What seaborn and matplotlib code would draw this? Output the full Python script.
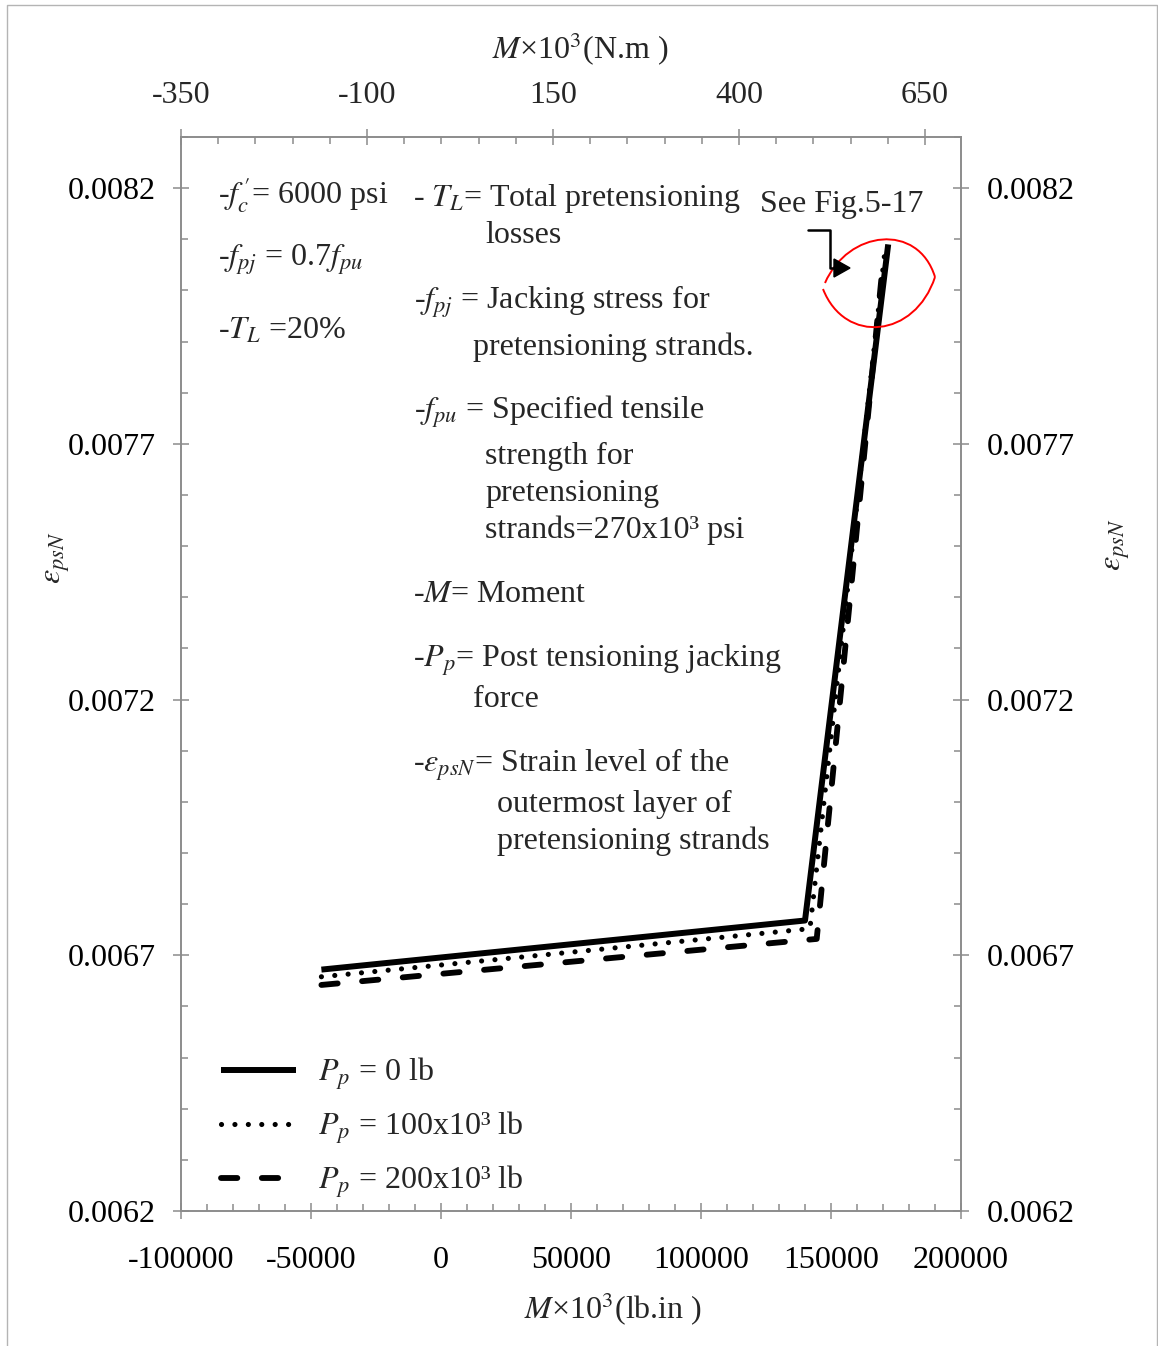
import numpy as np
import pandas as pd
import matplotlib
matplotlib.use("Agg")
import matplotlib.pyplot as plt
import seaborn as sns
from matplotlib.ticker import MultipleLocator, FixedLocator, FuncFormatter
from matplotlib.path import Path
from matplotlib.patches import PathPatch, Polygon
from matplotlib.lines import Line2D

# ---------------- data ----------------
series_labels = [r"$P_p$ = 0 lb", r"$P_p$ = 100x10³ lb", r"$P_p$ = 200x10³ lb"]
m_p0 = [-46000, 140000, 172000]
e_p0 = [0.006672, 0.006768, 0.00809]
m_p100 = [-46000, 141900, 170800]
e_p100 = [0.006658, 0.006752, 0.00808]
m_p200 = [-46000, 144500, 170200]
e_p200 = [0.006642, 0.006732, 0.008065]

x_ticks = [-100000, -50000, 0, 50000, 100000, 150000, 200000]
y_ticks = [0.0062, 0.0067, 0.0072, 0.0077, 0.0082]
top_ticks = [-350, -100, 150, 400, 650]

df = pd.DataFrame({
    "M": m_p0 + m_p100 + m_p200,
    "eps": e_p0 + e_p100 + e_p200,
    "series": [series_labels[0]] * 3 + [series_labels[1]] * 3 + [series_labels[2]] * 3,
})

# ---------------- style ----------------
sns.set_theme(style="ticks")
plt.rcParams["font.family"] = ["Liberation Serif", "DejaVu Serif"]
plt.rcParams["mathtext.fontset"] = "stix"
plt.rcParams["axes.unicode_minus"] = False

W, H = 1158, 1346
fig = plt.figure(figsize=(W / 100, H / 100), dpi=100)
fig.patch.set_facecolor("white")

L, R, T, B = 181, 961, 137, 1211
ax = fig.add_axes([L / W, 1 - B / H, (R - L) / W, (B - T) / H])
ax.set_facecolor("white")

FS = 23
SP = "#8c8c8c"


def P(x, y):
    return (x / W, 1 - y / H)


styles = [
    dict(linestyle="-", lw=4.3, solid_capstyle="butt"),
    dict(linestyle=(0, (0.01, 2.6)), lw=3.7, dash_capstyle="round"),
    dict(linestyle=(0, (2.8, 4.2)), lw=4.2, dash_capstyle="round"),
]
for lab, st in zip(series_labels, styles):
    sub = df[df["series"] == lab]
    sns.lineplot(data=sub, x="M", y="eps", ax=ax, sort=False, estimator=None,
                 color="black", label=lab, legend=False, **st)

ax.set_xlim(-100000, 200000)
ax.set_ylim(0.0062, 0.0083)
ax.set_xlabel("")
ax.set_ylabel("")

ax.xaxis.set_major_locator(FixedLocator(x_ticks))
ax.xaxis.set_minor_locator(MultipleLocator(10000))
ax.yaxis.set_major_locator(FixedLocator(y_ticks))
ax.yaxis.set_minor_locator(MultipleLocator(0.0001))
ax.xaxis.set_major_formatter(FuncFormatter(lambda v, p: f"{v:.0f}"))
ax.yaxis.set_major_formatter(FuncFormatter(lambda v, p: f"{v:.4f}"))

ax.tick_params(axis="both", which="major", direction="inout", length=11, width=1.1,
               color=SP, labelsize=FS, labelcolor="black")
ax.tick_params(axis="both", which="minor", direction="in", length=5, width=1.1, color=SP)
ax.tick_params(axis="y", which="both", left=True, right=True, labelleft=True, labelright=True, pad=13)
ax.tick_params(axis="x", which="both", bottom=True, top=False, pad=20)
for s in ax.spines.values():
    s.set_color(SP)
    s.set_linewidth(1.2)
    s.set_visible(True)

axt = ax.twiny()
axt.set_xlim(-350, -350 + 780 * 250 / 186)
axt.xaxis.set_major_locator(FixedLocator(top_ticks))
axt.xaxis.set_minor_locator(MultipleLocator(50))
axt.xaxis.set_major_formatter(FuncFormatter(lambda v, p: f"{v:.0f}"))
axt.tick_params(axis="x", which="major", direction="inout", length=11, width=1.1,
                color=SP, labelsize=FS, pad=14)
axt.tick_params(axis="x", which="minor", direction="in", length=5, width=1.1, color=SP)
for s in axt.spines.values():
    s.set_color(SP)
    s.set_linewidth(1.2)

# legend
ax.legend(loc="upper left", bbox_to_anchor=P(221, 1056), bbox_transform=fig.transFigure,
          frameon=False, fontsize=FS, handlelength=2.35, handletextpad=0.7,
          labelspacing=0.55, borderpad=0, borderaxespad=0)

# axis labels
fig.text(*P(580, 49), r"$M$×10$^3$(N.m )", fontsize=FS, ha="center", va="center")
fig.text(*P(613, 1309), r"$M$×10$^3$(lb.in )", fontsize=FS, ha="center", va="center")
fig.text(*P(57, 558), r"$\varepsilon_{psN}$", fontsize=FS, ha="center", va="center", rotation=90)
fig.text(*P(1117, 545), r"$\varepsilon_{psN}$", fontsize=FS, ha="center", va="center", rotation=90)

# annotation texts (x, baseline y, text)
notes = [
    (218, 204, r"-$f^{\,\prime}_{c}$= 6000 psi"),
    (218, 266, r"-$f_{pj}$ = 0.7$f_{pu}$"),
    (218, 339, r"-$T_L$ =20%"),
    (413, 206, r"- $T_L$= Total pretensioning"),
    (485, 243, "losses"),
    (414, 309, r"-$f_{pj}$ = Jacking stress for"),
    (473, 355, "pretensioning strands."),
    (414, 419, r"-$f_{pu}$ = Specified tensile"),
    (485, 464, "strength for"),
    (485, 501, "pretensioning"),
    (485, 538, "strands=270x10³ psi"),
    (413, 602, r"-$M$= Moment"),
    (413, 667, r"-$P_p$= Post tensioning jacking"),
    (473, 707, "force"),
    (413, 772, r"-$\varepsilon_{psN}$= Strain level of the"),
    (497, 812, "outermost layer of"),
    (497, 849, "pretensioning strands"),
    (760, 212, "See Fig.5-17"),
]
for x, y, t in notes:
    fig.text(*P(x, y), t, fontsize=FS, ha="left", va="baseline")

# red lens highlight
upper = Path([P(825, 283), P(848, 230), P(918, 222), P(935, 277)],
             [Path.MOVETO, Path.CURVE4, Path.CURVE4, Path.CURVE4])
lower = Path([P(823, 289), P(845, 345), P(915, 338), P(935, 277)],
             [Path.MOVETO, Path.CURVE4, Path.CURVE4, Path.CURVE4])
for pth in (upper, lower):
    fig.add_artist(PathPatch(pth, transform=fig.transFigure, fill=False,
                             edgecolor="red", lw=1.4))

# pointer arrow
xs, ys = zip(P(808, 230), P(830, 230), P(830, 268), P(836, 268))
fig.add_artist(Line2D(xs, ys, transform=fig.transFigure, color="black", lw=1.8))
fig.add_artist(Polygon([P(834, 259), P(850, 268), P(834, 277)], closed=True,
                       transform=fig.transFigure, color="black"))

# outer frame
fx, fy = zip(P(7, 1346), P(7, 5), P(1157, 5), P(1157, 1346))
fig.add_artist(Line2D(fx, fy, transform=fig.transFigure, color="#b4b4b4", lw=1.0))

fig.savefig("out.png", dpi=100, facecolor="white")
